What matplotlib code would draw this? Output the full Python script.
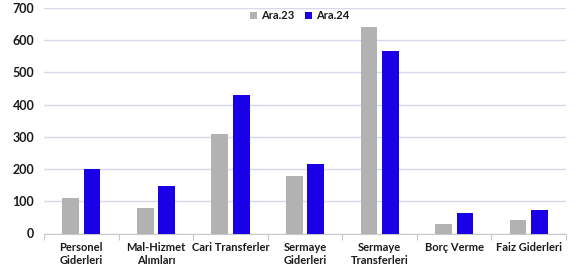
import matplotlib
matplotlib.use("Agg")
import matplotlib.pyplot as plt
import numpy as np

categories = ["Personel\nGiderleri", "Mal-Hizmet\nAlımları", "Cari Transferler",
              "Sermaye\nGiderleri", "Sermaye\nTransferleri", "Borç Verme", "Faiz Giderleri"]
ara23 = [110, 79, 310, 180, 640, 30, 41]
ara24 = [201, 148, 430, 217, 568, 65, 73]
series_names = ["Ara.23", "Ara.24"]
yticks = [0, 100, 200, 300, 400, 500, 600, 700]

plt.rcParams['font.family'] = ['Lato', 'DejaVu Sans']

fig = plt.figure(figsize=(5.87, 2.69), dpi=100)
ax = fig.add_axes([44/587, 1-233.5/269, (566-44)/587, (233.5-8)/269])

x = np.arange(len(categories))
w = 0.224
ax.bar(x - 0.142, ara23, w, color="#b2b2b2", label=series_names[0], zorder=3)
ax.bar(x + 0.144, ara24, w, color="#1a00e6", label=series_names[1], zorder=3)

ax.set_xlim(-0.5, len(categories) - 0.5)
ax.set_ylim(0, 700)
ax.set_yticks(yticks)
ax.set_yticklabels([str(v) for v in yticks], fontsize=9, fontweight='bold', color="#1a1a1a")
ax.yaxis.grid(True, color="#d6d9ee", linewidth=1.0, zorder=0)
ax.tick_params(axis='y', length=0, pad=7)

ax.set_xticks(x)
ax.set_xticklabels(categories, fontsize=8, fontweight='bold', color="#1a1a1a", linespacing=1.2)
ax.tick_params(axis='x', length=0, pad=6)
ax.set_xticks(np.arange(-0.5, len(categories)), minor=True)
ax.tick_params(axis='x', which='minor', length=4, color="#c8c8c8", width=0.8)

for s in ['top', 'right', 'left']:
    ax.spines[s].set_visible(False)
ax.spines['bottom'].set_color("#c8c8c8")
ax.spines['bottom'].set_linewidth(0.8)

leg = ax.legend(loc='upper center', bbox_to_anchor=(0.49, 1.035), ncol=2, frameon=False,
                handlelength=0.6, handleheight=0.6, handletextpad=0.4,
                columnspacing=1.0, prop={'weight': 'bold', 'size': 8})
for t in leg.get_texts():
    t.set_color("#1a1a1a")

fig.savefig("out.png", dpi=100)
